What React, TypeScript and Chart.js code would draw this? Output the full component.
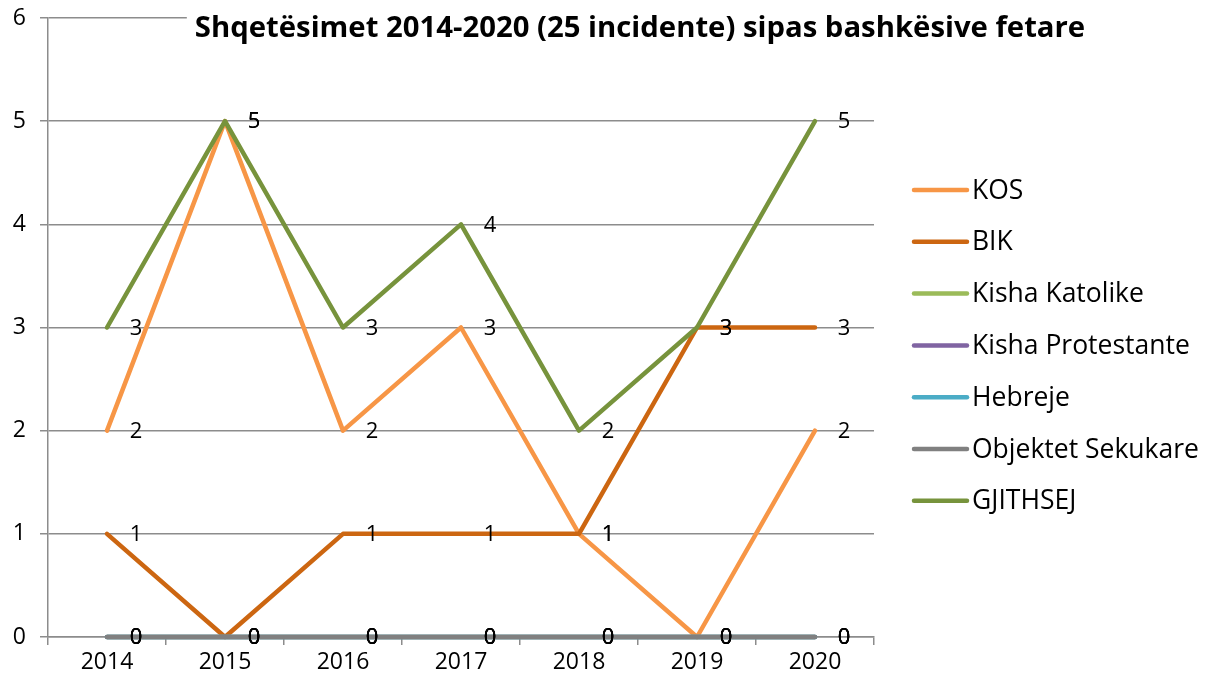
import React, { useEffect, useRef } from "react";
import { Chart, registerables } from "chart.js";

Chart.register(...registerables);

const years = ["2014", "2015", "2016", "2017", "2018", "2019", "2020"];
const kos = [2, 5, 2, 3, 1, 0, 2];
const bik = [1, 0, 1, 1, 1, 3, 3];
const katolike = [0, 0, 0, 0, 0, 0, 0];
const protestante = [0, 0, 0, 0, 0, 0, 0];
const hebreje = [0, 0, 0, 0, 0, 0, 0];
const sekukare = [0, 0, 0, 0, 0, 0, 0];
const gjithsej = [3, 5, 3, 4, 2, 3, 5];
const seriesNames = ["KOS", "BIK", "Kisha Katolike", "Kisha Protestante", "Hebreje", "Objektet Sekukare", "GJITHSEJ"];
const seriesColors = ["#F79646", "#CC6611", "#9BBB59", "#8064A2", "#4BACC6", "#808080", "#77933C"];
const yTicks = [0, 1, 2, 3, 4, 5, 6];
const title = "Shqetësimet 2014-2020 (25 incidente) sipas bashkësive fetare";

const FONT = "'Open Sans', 'Noto Sans', sans-serif";

export default function App() {
  const ref = useRef<HTMLCanvasElement | null>(null);
  useEffect(() => {
    document.body.style.margin = "0";
    const canvas = ref.current;
    if (!canvas) return;
    const allData = [kos, bik, katolike, protestante, hebreje, sekukare, gjithsej];
    const n = allData.length;

    const labelsPlugin = {
      id: "valueLabels",
      afterDatasetsDraw(chart: any) {
        const ctx = chart.ctx;
        ctx.save();
        ctx.font = `22px ${FONT}`;
        ctx.fillStyle = "#000";
        ctx.textAlign = "center";
        ctx.textBaseline = "middle";
        for (let i = 0; i < n; i++) {
          const meta = chart.getDatasetMeta(i);
          meta.data.forEach((pt: any, j: number) => {
            ctx.fillText(String(chart.data.datasets[i].data[j]), pt.x + 29, pt.y + 1);
          });
        }
        ctx.restore();
      },
    };

    const overlayPlugin = {
      id: "overlay",
      afterDraw(chart: any) {
        const ctx = chart.ctx;
        ctx.save();
        // title
        ctx.font = `bold 29.3px ${FONT}`;
        const tw = ctx.measureText(title).width;
        const cx = 640;
        ctx.fillStyle = "#fff";
        ctx.fillRect(cx - tw / 2 - 8, 4, tw + 16, 46);
        ctx.fillStyle = "#000";
        ctx.textAlign = "center";
        ctx.textBaseline = "middle";
        ctx.fillText(title, cx, 29);
        // legend
        ctx.font = `26.5px ${FONT}`;
        ctx.textAlign = "left";
        for (let i = 0; i < n; i++) {
          const y = 190 + i * 51.8;
          ctx.strokeStyle = seriesColors[i];
          ctx.lineWidth = 4.5;
          ctx.lineCap = "round";
          ctx.beginPath();
          ctx.moveTo(914, y);
          ctx.lineTo(967, y);
          ctx.stroke();
          ctx.fillStyle = "#000";
          ctx.fillText(seriesNames[i], 972, y + 1);
        }
        ctx.restore();
      },
    };

    const chart = new Chart(canvas, {
      type: "line",
      data: {
        labels: years,
        datasets: allData.map((d, i) => ({
          label: seriesNames[i],
          data: d,
          borderColor: seriesColors[i],
          backgroundColor: seriesColors[i],
          borderWidth: 4.5,
          borderCapStyle: "round",
          borderJoinStyle: "round",
          pointRadius: 0,
          tension: 0,
          fill: false,
          clip: false,
          order: n - 1 - i,
        })),
      },
      options: {
        responsive: false,
        animation: false,
        layout: { padding: { top: 18, right: 332, left: 0, bottom: 0 } },
        plugins: {
          legend: { display: false },
          title: { display: false },
          tooltip: { enabled: false },
        },
        scales: {
          x: {
            offset: true,
            grid: {
              offset: true,
              drawOnChartArea: false,
              drawTicks: true,
              tickLength: 8,
              color: "#8c8c8c",
              lineWidth: 1.5,
            },
            border: { color: "#8c8c8c", width: 1.5 },
            ticks: { color: "#000", font: { family: FONT, size: 23 }, padding: 4 },
            afterFit(scale: any) {
              scale.height = 47;
              scale.paddingLeft = 0;
              scale.paddingRight = 0;
            },
          },
          y: {
            min: 0,
            max: 6,
            afterBuildTicks(scale: any) {
              scale.ticks = yTicks.map((v) => ({ value: v }));
            },
            grid: { color: "#8c8c8c", lineWidth: 1.5, tickLength: 8 },
            border: { color: "#8c8c8c", width: 1.5 },
            ticks: { color: "#000", font: { family: FONT, size: 23 }, padding: 14 },
            afterFit(scale: any) {
              scale.width = 48;
              scale.paddingTop = 0;
              scale.paddingBottom = 0;
            },
          },
        },
      },
      plugins: [labelsPlugin, overlayPlugin],
    } as any);
    return () => chart.destroy();
  }, []);
  return (
    <div style={{ width: 1206, height: 684 }}>
      <canvas ref={ref} width={1206} height={684} style={{ display: "block" }} />
    </div>
  );
}
